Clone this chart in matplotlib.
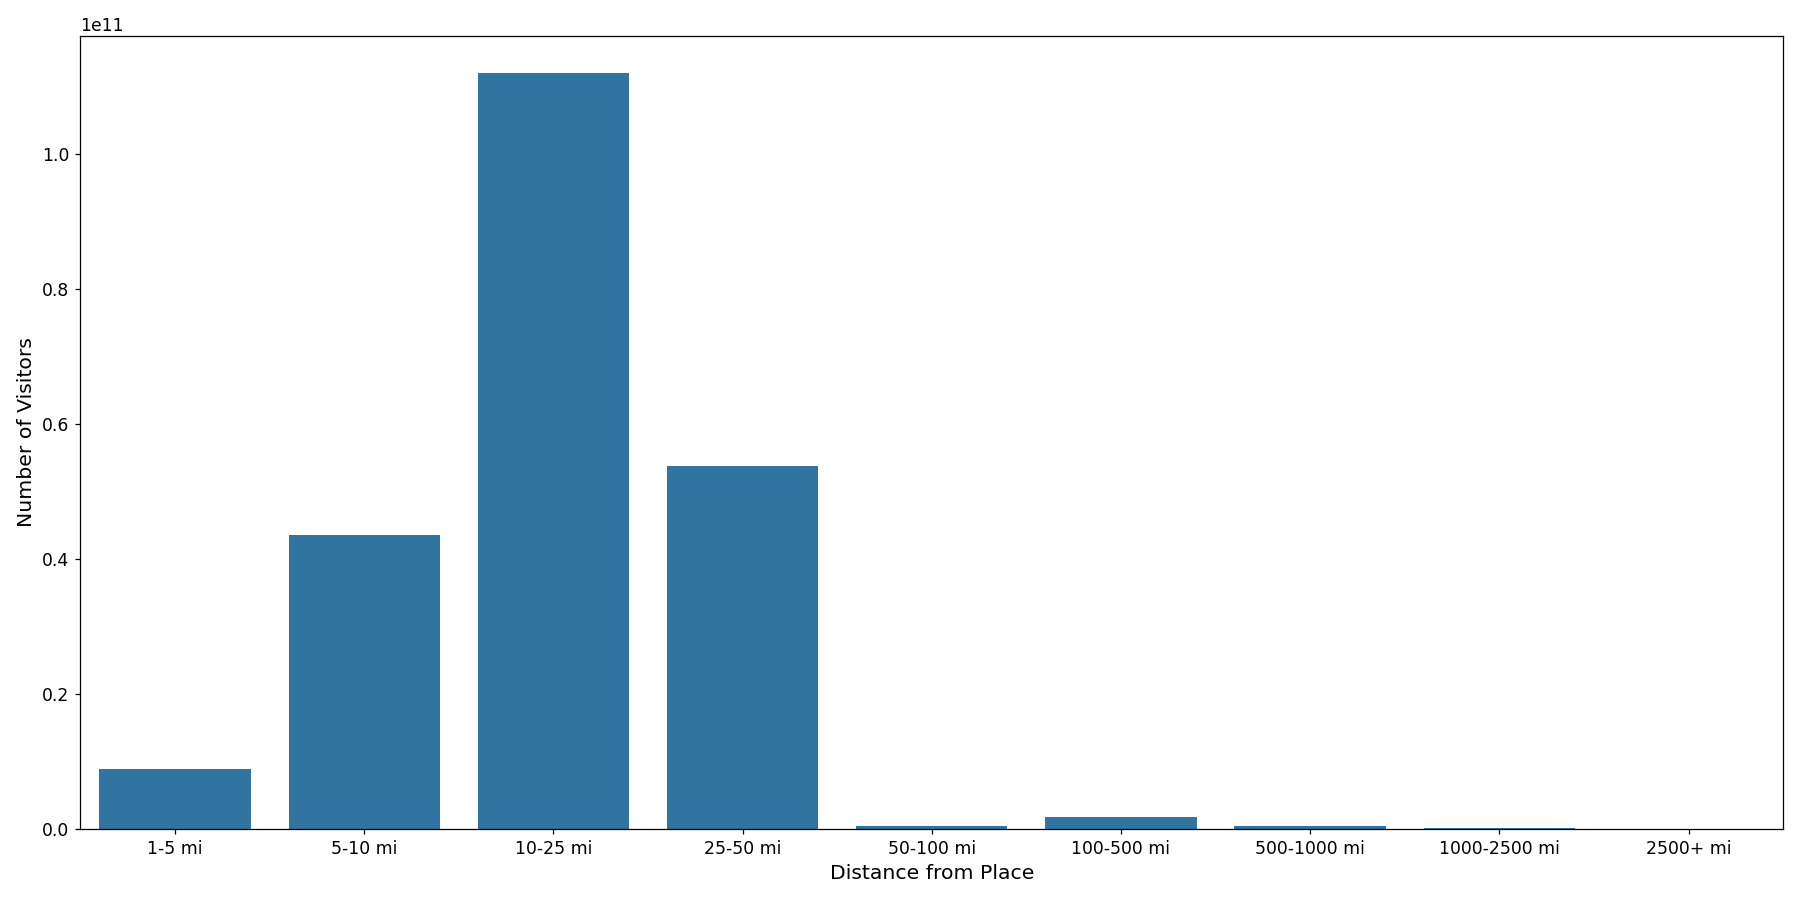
import matplotlib
matplotlib.use("Agg")
import matplotlib.pyplot as plt

categories = ["1-5 mi", "5-10 mi", "10-25 mi", "25-50 mi", "50-100 mi",
              "100-500 mi", "500-1000 mi", "1000-2500 mi", "2500+ mi"]
visitors = [8.87e9, 4.36e10, 1.119e11, 5.37e10, 5.0e8, 1.8e9, 5.0e8, 2.0e8, 5.0e7]

fig, ax = plt.subplots(figsize=(16, 8), dpi=112.5)
ax.bar(range(len(categories)), visitors, width=0.8, color="#3274a1")
ax.set_xticks(range(len(categories)))
ax.set_xticklabels(categories)
ax.set_xlim(-0.5, len(categories) - 0.5)
ax.set_xlabel("Distance from Place", fontsize=13)
ax.set_ylabel("Number of Visitors", fontsize=13)
ax.tick_params(labelsize=11)
ax.yaxis.get_offset_text().set_fontsize(11)
fig.tight_layout()
fig.savefig("out.png")
